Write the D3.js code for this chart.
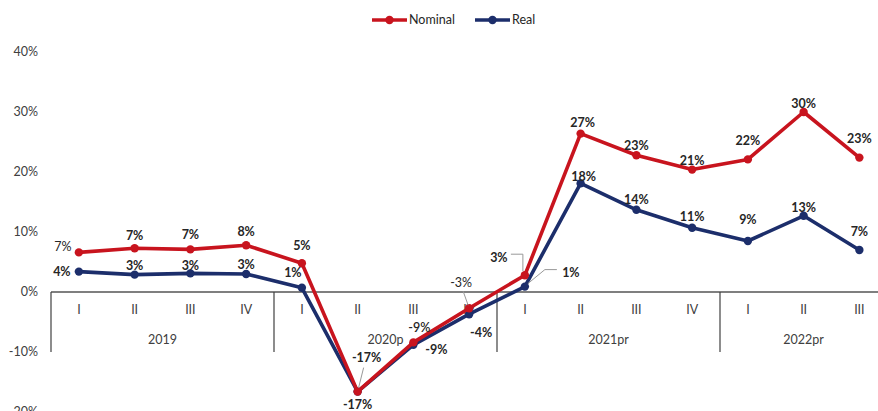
<!DOCTYPE html>
<html><head><meta charset="utf-8">
<script src="https://cdn.jsdelivr.net/npm/d3@7"></script>
<style>
html,body{margin:0;padding:0;background:#fff;}
svg{display:block;font-family:Lato,"Open Sans",sans-serif;}
</style></head>
<body>
<svg id="c" width="878" height="411"></svg>
<script>
// ---- data ----
const quarters = ["I","II","III","IV","I","II","III","IV","I","II","III","IV","I","II","III"];
const years = ["2019","2020p","2021pr","2022pr"];
const yearSizes = [4,4,4,3];
const nominal = [6.6,7.3,7.1,7.8,4.8,-16.6,-8.4,-2.7,2.8,26.4,22.8,20.4,22.1,30.0,22.4];
const real = [3.4,2.9,3.1,3.0,0.7,-16.6,-8.8,-3.7,0.9,18.1,13.7,10.7,8.5,12.7,7.0];
const nominalLabels = ["7%","7%","7%","8%","5%","-17%","-9%","-3%","3%","27%","23%","21%","22%","30%","23%"];
const realLabels = ["4%","3%","3%","3%","1%","-17%","-9%","-4%","1%","18%","14%","11%","9%","13%","7%"];
const yTicks = [-20,-10,0,10,20,30,40];
const seriesNames = ["Nominal","Real"];

// ---- layout / style (not data) ----
const colors = {Nominal:"#C8141E", Real:"#1C2E6B"};
const nomOff = [[-16,-6],[0,-13],[0,-15],[0,-14],[0,-18],[9,-34],[6,-15],[-8,-26],[-26,-18],[2,-11],[0,-10],[0,-9],[0,-19],[0,-8],[0,-19]];
const realOff = [[-17,0],[0,-9],[0,-8],[0,-9],[-9,-15],[0,13],[23,5],[12,18],[46,-14],[3,-7],[0,-10],[0,-11],[0,-21],[0,-8],[0,-18]];
const nomWeight = [400,700,700,700,700,700,600,400,700,700,700,700,700,700,700];

const svg = d3.select("#c");
const left = 51, step = 55.75;
const x = d3.scaleBand().domain(d3.range(quarters.length)).range([left, left + step*quarters.length]).padding(0);
const y = d3.scaleLinear().domain([-20,40]).range([412,52]);
const cx = i => x(i) + x.bandwidth()/2;

// y tick labels
svg.append("g").selectAll("text").data(yTicks).join("text")
  .attr("x",38).attr("y",d=>y(d)).attr("dy","0.35em").attr("text-anchor","end")
  .attr("font-size",12.5).attr("fill","#404040").text(d=>d+"%");

// x axis line
const y0 = y(0);
svg.append("line").attr("x1",left).attr("x2",878).attr("y1",y0).attr("y2",y0).attr("stroke","#000").attr("stroke-width",1.2);

// quarter labels
svg.append("g").selectAll("text").data(quarters).join("text")
  .attr("x",(d,i)=>cx(i)).attr("y",y0+22).attr("text-anchor","middle")
  .attr("font-size",12.5).attr("fill","#404040").text(d=>d);

// year groups
let acc = 0;
const groups = years.map((yr,k)=>{const g={yr,start:acc,end:acc+yearSizes[k]}; acc+=yearSizes[k]; return g;});
svg.append("g").selectAll("line").data(groups).join("line")
  .attr("x1",d=>x(d.start)).attr("x2",d=>x(d.start))
  .attr("y1",y0).attr("y2",y0+60).attr("stroke","#404040").attr("stroke-width",1.2);
svg.append("g").selectAll("text").data(groups).join("text")
  .attr("x",d=>(x(d.start)+x(d.end-1)+x.bandwidth())/2).attr("y",y0+52).attr("text-anchor","middle")
  .attr("font-size",12.5).attr("fill","#404040").text(d=>d.yr);

// lines
const line = d3.line().x((d,i)=>cx(i)).y(d=>y(d));
[["Real",real],["Nominal",nominal]].forEach(([name,vals])=>{
  svg.append("path").datum(vals).attr("d",line).attr("fill","none")
    .attr("stroke",colors[name]).attr("stroke-width",3.6).attr("stroke-linejoin","round");
  svg.append("g").selectAll("circle").data(vals).join("circle")
    .attr("cx",(d,i)=>cx(i)).attr("cy",d=>y(d)).attr("r",4.2).attr("fill",colors[name]);
});

// leader lines
const lead = svg.append("g").attr("stroke","#999").attr("stroke-width",1).attr("fill","none");
lead.append("path").attr("d",`M${cx(5)+6},${y(nominal[5])-24} L${cx(5)+1},${y(nominal[5])-4}`);
lead.append("path").attr("d",`M${cx(7)-6},${y(nominal[7])-17} L${cx(7)-1},${y(nominal[7])-3}`);
lead.append("path").attr("d",`M${cx(8)-14},${y(nominal[8])-21} L${cx(8)-2},${y(nominal[8])-21} L${cx(8)-2},${y(nominal[8])-4}`);
lead.append("path").attr("d",`M${cx(8)+32},${y(real[8])-17} L${cx(8)+20},${y(real[8])-17} L${cx(8)+3},${y(real[8])-3}`);

// data labels
svg.append("g").selectAll("text").data(nominal).join("text")
  .attr("x",(d,i)=>cx(i)+nomOff[i][0]).attr("y",(d,i)=>y(d)+nomOff[i][1]).attr("dy","0.35em")
  .attr("text-anchor","middle").attr("font-size",12.5).attr("font-weight",(d,i)=>nomWeight[i])
  .attr("fill","#262626").text((d,i)=>nominalLabels[i]);
svg.append("g").selectAll("text").data(real).join("text")
  .attr("x",(d,i)=>cx(i)+realOff[i][0]).attr("y",(d,i)=>y(d)+realOff[i][1]).attr("dy","0.35em")
  .attr("text-anchor","middle").attr("font-size",12.5).attr("font-weight",700)
  .attr("fill","#262626").text((d,i)=>realLabels[i]);

// legend
const leg = svg.append("g");
const legX = [372,475], legW = 35;
seriesNames.forEach((n,k)=>{
  const g = leg.append("g").attr("transform",`translate(${legX[k]},20)`);
  g.append("line").attr("x1",0).attr("x2",legW).attr("stroke",colors[n]).attr("stroke-width",3.6);
  g.append("circle").attr("cx",legW/2).attr("r",4.2).attr("fill",colors[n]);
  g.append("text").attr("x",legW+2).attr("dy","0.35em").attr("font-size",12.5).attr("fill","#262626").text(n);
});
</script>
</body></html>
